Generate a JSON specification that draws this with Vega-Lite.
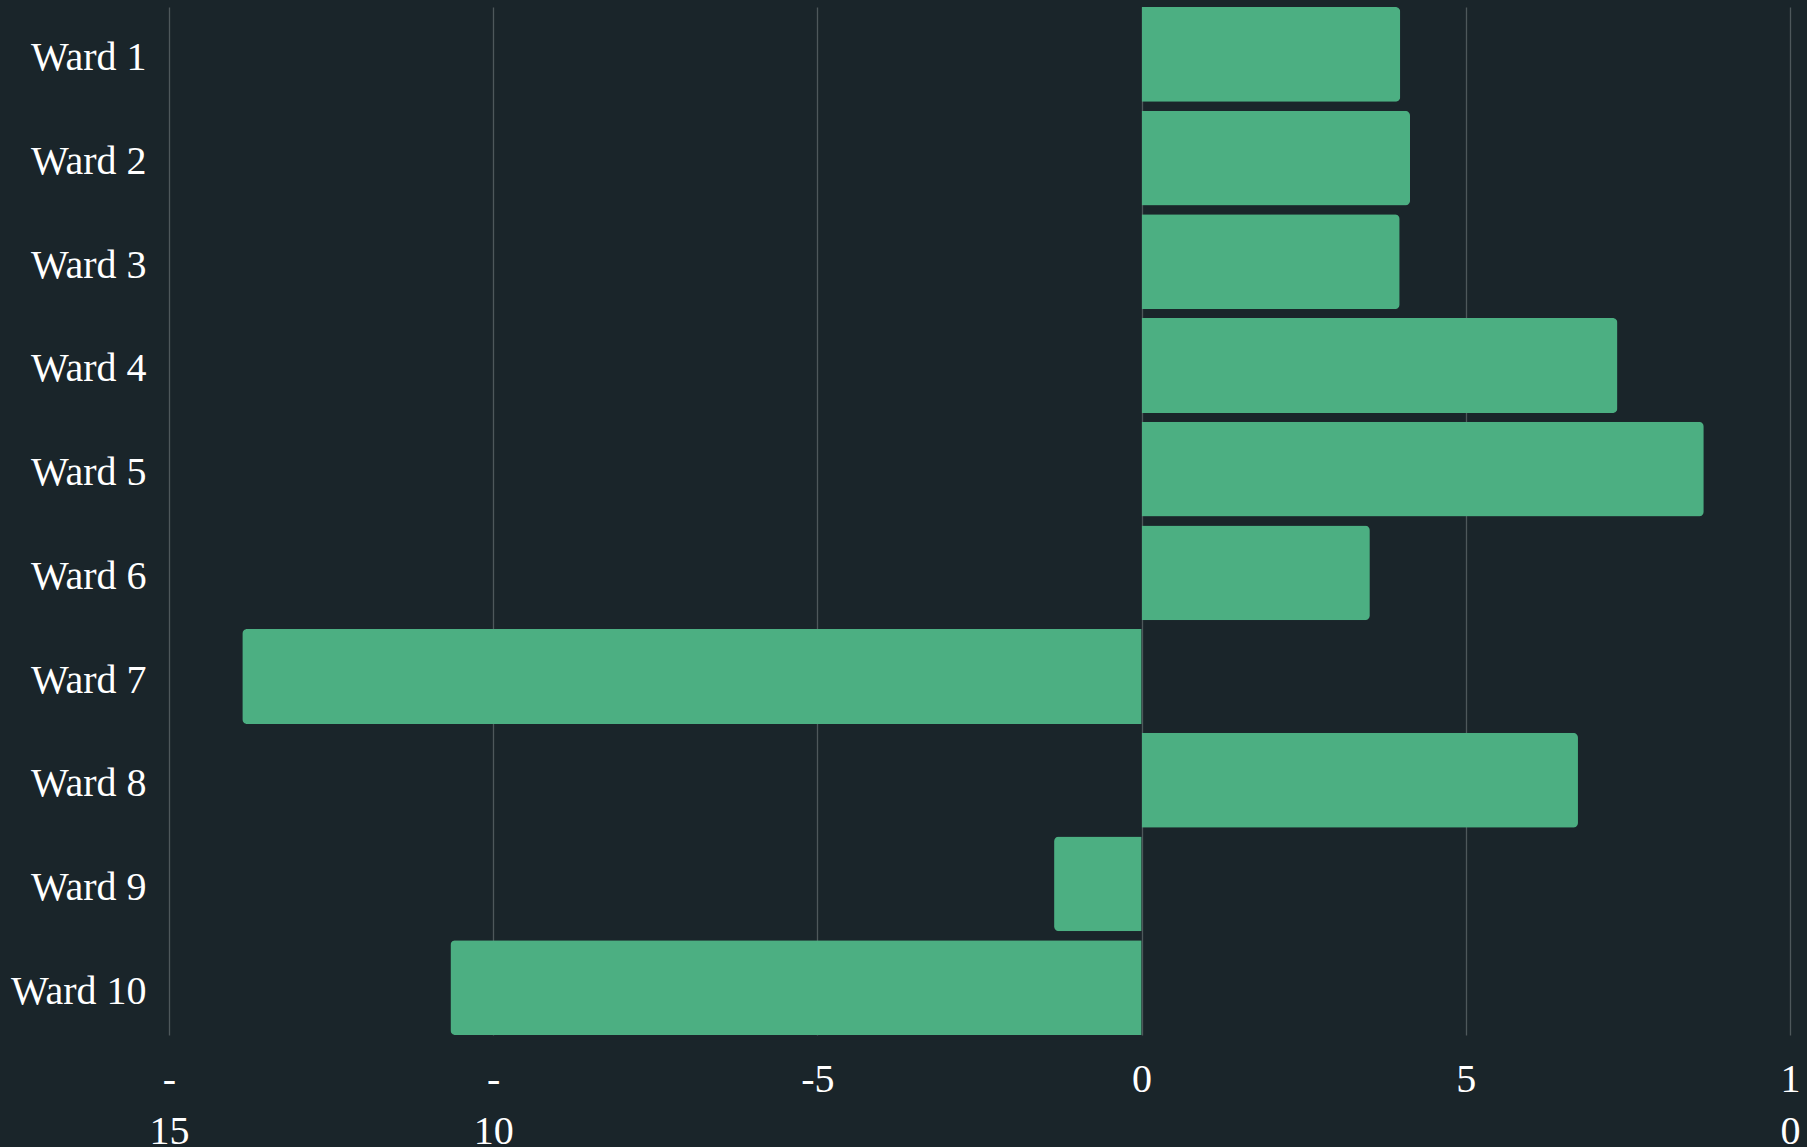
{
  "$schema": "https://vega.github.io/schema/vega-lite/v6.json",
  "width": 1621,
  "height": 1028,
  "autosize": {"type": "none"},
  "padding": {"left": 169, "top": 7, "right": 17, "bottom": 112},
  "background": "#1a252a",
  "config": {
    "view": {"stroke": null},
    "axis": {"labelFont": "Liberation Serif", "labelColor": "#ffffff", "labelFontSize": 40, "domain": false, "ticks": false}
  },
  "data": {
    "values": [
      {"ward": "Ward 1", "value": 3.99},
      {"ward": "Ward 2", "value": 4.14},
      {"ward": "Ward 3", "value": 3.98},
      {"ward": "Ward 4", "value": 7.34},
      {"ward": "Ward 5", "value": 8.67},
      {"ward": "Ward 6", "value": 3.52},
      {"ward": "Ward 7", "value": -13.87},
      {"ward": "Ward 8", "value": 6.73},
      {"ward": "Ward 9", "value": -1.35},
      {"ward": "Ward 10", "value": -10.66}
    ]
  },
  "encoding": {
    "y": {
      "field": "ward", "type": "nominal", "title": null,
      "sort": ["Ward 1", "Ward 2", "Ward 3", "Ward 4", "Ward 5", "Ward 6", "Ward 7", "Ward 8", "Ward 9", "Ward 10"],
      "scale": {"paddingInner": 0.085, "paddingOuter": 0},
      "axis": {"labelPadding": 23, "grid": false, "labelAlign": "right", "labelOffset": 4}
    },
    "x": {
      "field": "value", "type": "quantitative", "title": null,
      "scale": {"domain": [-15, 10], "nice": false, "zero": true},
      "axis": {
        "values": [-15, -10, -5, 0, 5, 10],
        "grid": true, "gridColor": "#4e585b", "gridWidth": 1.3, "gridOpacity": 1,
        "labelFlush": false, "labelOverlap": false, "labelPadding": 24,
        "labelLineHeight": 52,
        "labelExpr": "datum.value == -15 ? ['-', '15'] : datum.value == -10 ? ['-', '10'] : datum.value == 10 ? ['1', '0'] : '' + datum.value"
      }
    }
  },
  "layer": [
    {
      "transform": [{"filter": "datum.value >= 0"}],
      "mark": {"type": "bar", "color": "#4caf82", "cornerRadiusTopRight": 5, "cornerRadiusBottomRight": 5}
    },
    {
      "transform": [{"filter": "datum.value < 0"}],
      "mark": {"type": "bar", "color": "#4caf82", "cornerRadiusTopLeft": 5, "cornerRadiusBottomLeft": 5}
    }
  ]
}
